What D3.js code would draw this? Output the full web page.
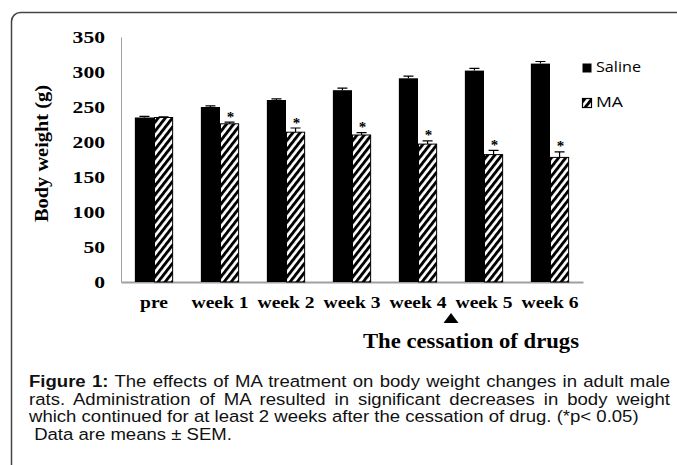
<!DOCTYPE html>
<html>
<head>
<meta charset="utf-8">
<script src="https://cdn.jsdelivr.net/npm/d3@7"></script>
<style>
  body { margin: 0; background: #fff; }
  svg { display: block; }
</style>
</head>
<body>
<svg id="chart"></svg>
<script>
// data
var categories = ["pre", "week 1", "week 2", "week 3", "week 4", "week 5", "week 6"];
var salineMean = [235, 250, 260, 274, 291, 302, 312];
var salineSem  = [1.5, 1.5, 1.5, 3, 3, 3.3, 3];
var maMean     = [235, 226, 214, 210, 197, 182, 178];
var maSem      = [1, 2.5, 6, 3.5, 4.5, 6, 8];
var significant = [false, true, true, true, true, true, true];
var yTicks = [0, 50, 100, 150, 200, 250, 300, 350];
var seriesNames = ["Saline", "MA"];
var cessationAfter = "week 4";
var captionLines = [
  "The effects of MA treatment on body weight changes in adult male",
  "rats. Administration of MA resulted in significant decreases in body weight",
  "which continued for at least 2 weeks after the cessation of drug. (*p< 0.05)",
  " Data are means \u00b1 SEM."
];

var W = 677, H = 465;
var serif = "'Liberation Serif', 'Times New Roman', serif";
var sans = "'Liberation Sans', Arial, sans-serif";

var svg = d3.select("#chart")
    .attr("width", W)
    .attr("height", H);

// hatch for MA bars
var defs = svg.append("defs");
defs.append("pattern")
    .attr("id", "hatch")
    .attr("patternUnits", "userSpaceOnUse")
    .attr("width", 10)
    .attr("height", 5.6)
    .attr("patternTransform", "rotate(-52)")
  .append("rect")
    .attr("width", 10)
    .attr("height", 2.9)
    .attr("fill", "#000");

// panel frame (runs off the right / bottom edge)
svg.append("rect")
    .attr("x", 11.5).attr("y", 12.5)
    .attr("width", 800).attr("height", 600)
    .attr("rx", 9)
    .attr("fill", "#fff")
    .attr("stroke", "#444")
    .attr("stroke-width", 1.5);

var x = d3.scaleBand()
    .domain(categories)
    .range([121, 583])
    .paddingInner(0.42)
    .paddingOuter(0.21);

var x1 = d3.scaleBand()
    .domain(seriesNames)
    .range([0, x.bandwidth()]);

var y = d3.scaleLinear()
    .domain([0, 350])
    .range([282, 37]);

// y axis
var yAxis = svg.append("g")
    .attr("transform", "translate(121,0)")
    .call(d3.axisLeft(y).tickValues(yTicks).tickSize(0).tickSizeOuter(0));
yAxis.select(".domain").attr("stroke", "#a0a0a0").attr("stroke-width", 1);
yAxis.selectAll("text")
    .attr("x", 0)
    .attr("dy", "0.34em")
    .attr("transform", "translate(-16,0) scale(1.35,1)")
    .attr("font-family", serif)
    .attr("font-weight", "bold")
    .attr("font-size", 16)
    .attr("fill", "#000");

// x axis
var xAxis = svg.append("g")
    .attr("transform", "translate(0,282)")
    .call(d3.axisBottom(x).tickSize(0).tickSizeOuter(0));
xAxis.select(".domain").attr("stroke", "#a0a0a0").attr("stroke-width", 2);
xAxis.selectAll("text")
    .attr("y", 0)
    .attr("dy", 0)
    .attr("transform", "translate(0,26) scale(1.15,1)")
    .attr("font-family", serif)
    .attr("font-weight", "bold")
    .attr("font-size", 17)
    .attr("fill", "#000");

// bars
var rows = categories.map(function(c, i) {
    return {cat: c, i: i};
});

var groups = svg.selectAll("g.grp")
    .data(rows)
    .enter().append("g")
    .attr("class", "grp")
    .attr("transform", function(d) { return "translate(" + x(d.cat) + ",0)"; });

groups.append("rect")
    .attr("x", x1("Saline"))
    .attr("width", x1.bandwidth())
    .attr("y", function(d) { return y(salineMean[d.i]); })
    .attr("height", function(d) { return y(0) - y(salineMean[d.i]); })
    .attr("fill", "#000");

groups.append("rect")
    .attr("x", x1("MA") + 0.5)
    .attr("width", x1.bandwidth() - 1)
    .attr("y", function(d) { return y(maMean[d.i]); })
    .attr("height", function(d) { return y(0) - y(maMean[d.i]); })
    .attr("fill", "url(#hatch)")
    .attr("stroke", "#000")
    .attr("stroke-width", 1);

// error bars (upper half only, as in the figure)
function errBar(g, name, mean, sem) {
    var cx = x1(name) + x1.bandwidth() / 2;
    g.append("path")
        .attr("d", function(d) {
            var top = y(mean[d.i] + sem[d.i]), base = y(mean[d.i]);
            return "M" + cx + "," + base + "V" + top + "M" + (cx - 5) + "," + top + "H" + (cx + 5);
        })
        .attr("fill", "none")
        .attr("stroke", "#000")
        .attr("stroke-width", 1.2);
}
errBar(groups, "Saline", salineMean, salineSem);
errBar(groups, "MA", maMean, maSem);

// significance marks
groups.filter(function(d) { return significant[d.i]; })
  .append("text")
    .attr("x", x1("MA") + x1.bandwidth() / 2 + 1)
    .attr("y", function(d) { return y(maMean[d.i] + maSem[d.i]) - 0.5; })
    .attr("text-anchor", "middle")
    .attr("font-family", serif)
    .attr("font-weight", "bold")
    .attr("font-size", 15)
    .attr("fill", "#000")
    .text("*");

// y title
svg.append("text")
    .attr("transform", "translate(48,153.5) rotate(-90)")
    .attr("text-anchor", "middle")
    .attr("font-family", serif)
    .attr("font-weight", "bold")
    .attr("font-size", 19)
    .attr("textLength", 137)
    .attr("lengthAdjust", "spacingAndGlyphs")
    .text("Body weight (g)");

// legend
var legend = svg.append("g").attr("transform", "translate(582,0)");
var legendY = [63, 98];
seriesNames.forEach(function(name, k) {
    legend.append("rect")
        .attr("x", 0.5).attr("y", legendY[k] + 0.5)
        .attr("width", 9).attr("height", 9)
        .attr("fill", k === 0 ? "#000" : "url(#hatch)")
        .attr("stroke", "#000")
        .attr("stroke-width", k === 0 ? 0 : 1.2);
    legend.append("text")
        .attr("x", 14).attr("y", legendY[k] + 9)
        .attr("font-family", "'Open Sans', Lato, sans-serif")
        .attr("font-size", 14)
        .attr("textLength", k === 0 ? 45 : 27)
        .attr("lengthAdjust", "spacingAndGlyphs")
        .text(name);
});

// cessation marker between week 4 and week 5
var ci = categories.indexOf(cessationAfter);
var tx = (x(categories[ci]) + x.bandwidth() + x(categories[ci + 1])) / 2;
svg.append("path")
    .attr("d", d3.line()([[tx - 7.5, 323], [tx, 313], [tx + 7.5, 323]]) + "Z")
    .attr("fill", "#000");
svg.append("text")
    .attr("x", 471).attr("y", 348)
    .attr("text-anchor", "middle")
    .attr("font-family", serif)
    .attr("font-weight", "bold")
    .attr("font-size", 20)
    .attr("textLength", 216)
    .attr("lengthAdjust", "spacingAndGlyphs")
    .text("The cessation of drugs");

// caption: stretched so the un-justified third line spans as in the figure,
// first two lines justified to the right margin
var capX = 29, capRight = 670, capY = 387, capLead = 17.6, line3Width = 610;
var cap = svg.append("g")
    .attr("font-family", sans)
    .attr("font-size", 17)
    .attr("fill", "#111");

var capTexts = captionLines.map(function(line, k) {
    var t = cap.append("text")
        .attr("x", 0)
        .attr("y", 0)
        .attr("xml:space", "preserve");
    if (k === 0) {
        t.append("tspan").attr("font-weight", "bold").text("Figure 1:");
        t.append("tspan").text(" " + line);
    } else {
        t.text(line);
    }
    return t;
});
var sx = line3Width / capTexts[2].node().getComputedTextLength();
capTexts.forEach(function(t, k) {
    t.attr("transform", "translate(" + capX + "," + (capY + k * capLead) + ") scale(" + sx + ",1)");
    if (k < 2) {
        var w = t.node().getComputedTextLength();
        var full = (k === 0 ? "Figure 1: " : "") + captionLines[k];
        var gaps = full.split(" ").length - 1;
        t.style("word-spacing", (((capRight - capX) / sx - w) / gaps) + "px");
    }
});
</script>
</body>
</html>
